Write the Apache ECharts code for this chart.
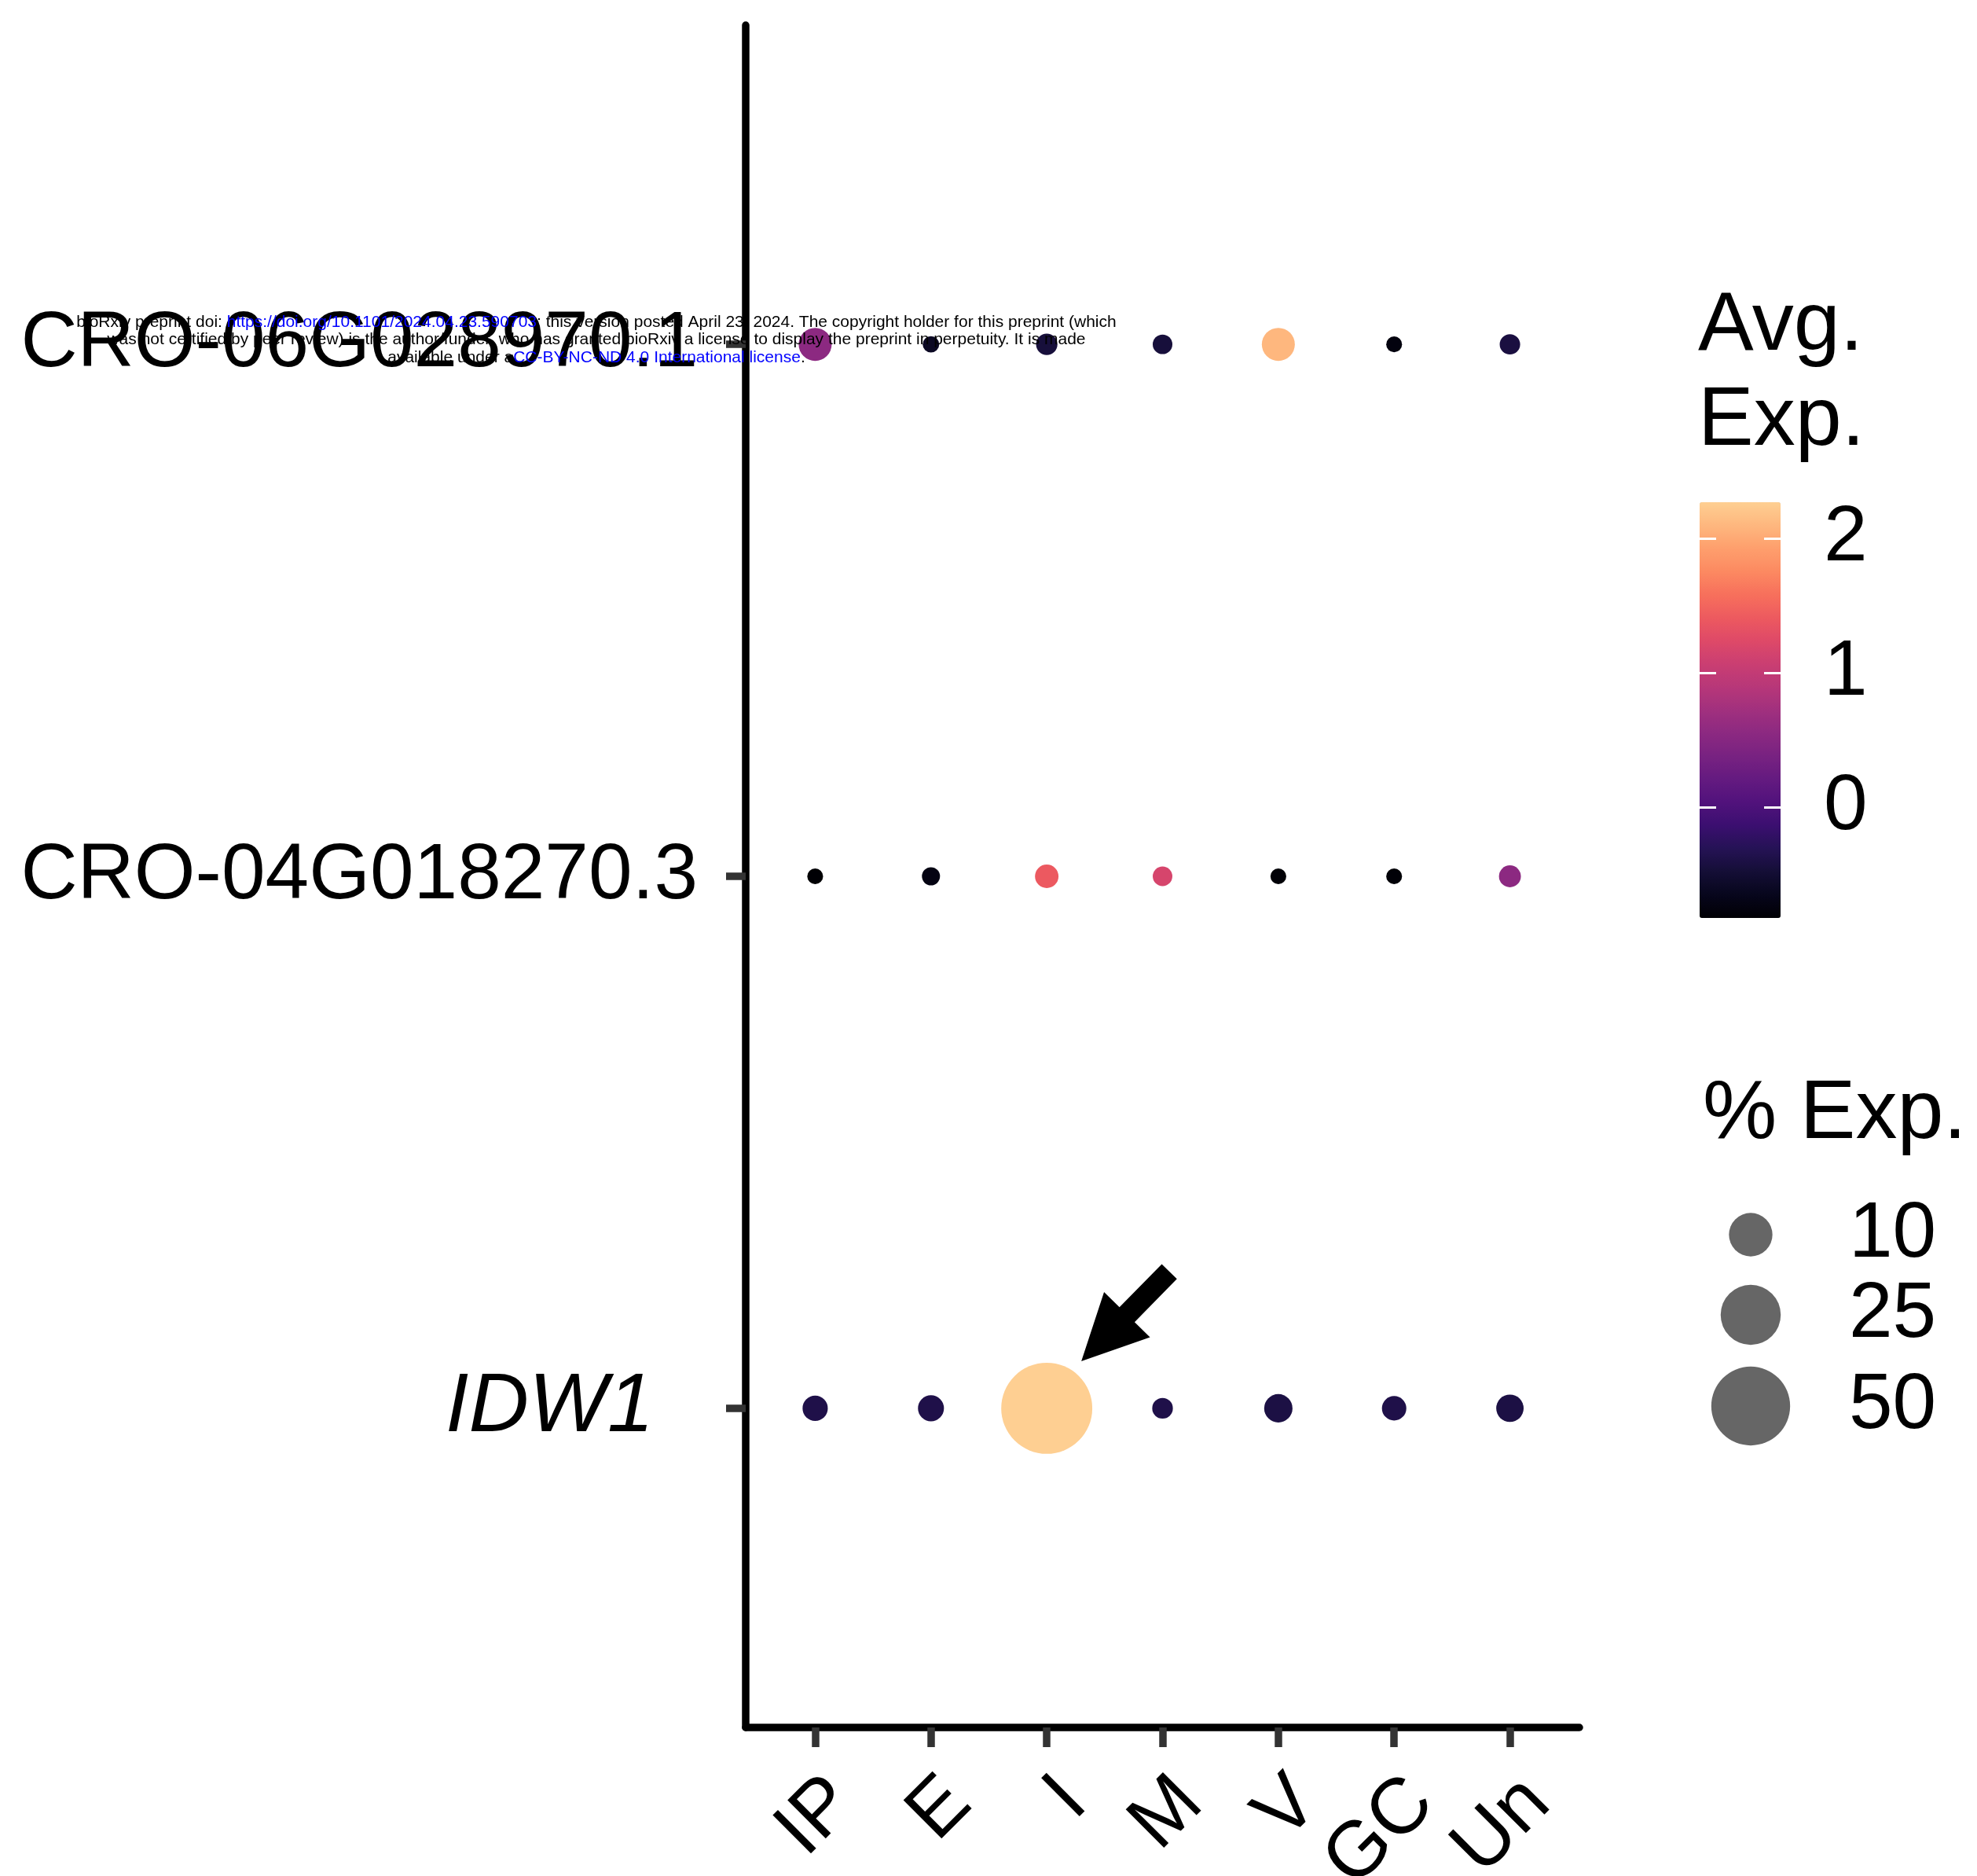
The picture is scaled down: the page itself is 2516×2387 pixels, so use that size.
<!DOCTYPE html>
<html>
<head>
<meta charset="utf-8">
<script src="https://cdn.jsdelivr.net/npm/echarts@6/dist/echarts.min.js"></script>
<style>
html, body { margin: 0; padding: 0; background: #fff; }
#main { width: 2516px; height: 2387px; }
</style>
</head>
<body>
<div id="main"></div>
<script>
// clusters on x, genes on y (bottom to top)
var clusters = ['IP', 'E', 'I', 'M', 'V', 'GC', 'Un'];
var genes = ['IDW1', 'CRO-04G018270.3', 'CRO-06G028970.1'];

// scaled average expression per cluster
var avgIDW1 = [-0.37, -0.37, 2.27, -0.37, -0.40, -0.37, -0.40];
var avg04G = [-0.82, -0.72, 1.40, 1.17, -0.80, -0.80, 0.55];
var avg06G = [0.55, -0.60, -0.45, -0.45, 2.10, -0.75, -0.42];

// percent of cells expressing
var pctIDW1 = [1.3, 1.5, 71, 0.4, 2.2, 1.1, 1.9];
var pct04G = [0.01, 0.12, 0.9, 0.27, 0.01, 0.01, 0.6];
var pct06G = [4.0, 0.03, 0.5, 0.27, 4.0, 0.01, 0.37];

var sizeBreaks = [10, 25, 50];
var colorTicks = [0, 1, 2];
var colorMin = -0.82;
var colorMax = 2.27;

// magma, 0 .. 0.9
var magma = ['#000004', '#07061C', '#140E36', '#251255', '#3B0F70', '#51127C', '#641A80',
  '#782281', '#8C2981', '#A1307E', '#B73779', '#CA3E72', '#DE4968', '#ED5A5F', '#F7705C',
  '#FC8961', '#FE9F6D', '#FEB77E', '#FECF92'];

var font = 'Liberation Sans, Arial, Helvetica, sans-serif';

function dotSize(p) {
  return 19 + 11.5 * Math.sqrt(p);
}

var avgRows = [avgIDW1, avg04G, avg06G];
var pctRows = [pctIDW1, pct04G, pct06G];
var points = [];
for (var g = 0; g < genes.length; g++) {
  for (var c = 0; c < clusters.length; c++) {
    points.push([c + 1, g + 1, avgRows[g][c], pctRows[g][c]]);
  }
}
var xPos = clusters.map(function (d, i) { return i + 1; });
var yPos = genes.map(function (d, i) { return i + 1; });

var myChart = echarts.init(document.getElementById('main'));

myChart.setOption({
  animation: false,
  textStyle: { fontFamily: font },
  grid: [
    { left: 949, right: 506, top: 32, bottom: 189, outerBoundsMode: 'none', containLabel: false },
    { left: 2163, top: 639, width: 103, height: 529, outerBoundsMode: 'none', containLabel: false }
  ],
  xAxis: [
    {
      type: 'value', gridIndex: 0, min: 0.4, max: 7.6,
      splitLine: { show: false },
      axisLine: { onZero: false, lineStyle: { color: '#000', width: 9.5 } },
      axisTick: { customValues: xPos, length: 25, lineStyle: { color: '#333', width: 9.5 } },
      axisLabel: {
        customValues: xPos, interval: 0, rotate: 45, align: 'right', verticalAlign: 'top',
        margin: 45, fontSize: 100, color: '#000', fontFamily: font,
        formatter: function (v) { return clusters[Math.round(v) - 1]; }
      }
    },
    { type: 'value', gridIndex: 1, min: 0, max: 1, show: false }
  ],
  yAxis: [
    {
      type: 'value', gridIndex: 0, min: 0.4, max: 3.6,
      splitLine: { show: false },
      axisLine: { onZero: false, lineStyle: { color: '#000', width: 9.5 } },
      axisTick: { customValues: yPos, length: 25, lineStyle: { color: '#333', width: 9.5 } },
      axisLabel: {
        customValues: yPos, interval: 0, margin: 61, fontSize: 100, color: '#000', fontFamily: font,
        formatter: function (v) {
          var name = genes[Math.round(v) - 1];
          return name === 'IDW1' ? '{it|' + name + '}' : name;
        },
        rich: {
          it: { fontStyle: 'italic', fontSize: 106, color: '#000', fontFamily: font, padding: [0, 56, 0, 0] }
        }
      }
    },
    {
      type: 'value', gridIndex: 1, position: 'left', min: colorMin, max: colorMax, z: 10,
      splitLine: { show: false }, axisLine: { show: false }, axisLabel: { show: false },
      axisTick: { inside: true, customValues: colorTicks, length: 21, lineStyle: { color: '#fff', width: 3 } }
    },
    {
      type: 'value', gridIndex: 1, position: 'right', min: colorMin, max: colorMax, z: 10,
      splitLine: { show: false }, axisLine: { show: false },
      axisTick: { inside: true, customValues: colorTicks, length: 21, lineStyle: { color: '#fff', width: 3 } },
      axisLabel: { customValues: colorTicks, margin: 55, fontSize: 100, color: '#000', fontFamily: font }
    }
  ],
  visualMap: {
    type: 'continuous', seriesIndex: 0, dimension: 2,
    min: colorMin, max: colorMax, calculable: false, hoverLink: false,
    inRange: { color: magma },
    left: 2163, top: 639, itemWidth: 103, itemHeight: 529, padding: 0
  },
  series: [
    {
      type: 'scatter', xAxisIndex: 0, yAxisIndex: 0,
      symbol: 'circle',
      symbolSize: function (d) { return dotSize(d[3]); },
      itemStyle: { opacity: 1 },
      data: points
    }
  ]
});

// arrow pointing at the IDW1 dot in cluster I
var ctr = myChart.convertToPixel({ gridIndex: 0 }, [clusters.indexOf('I') + 1, genes.indexOf('IDW1') + 1]);
var tip = [ctr[0] + 44, ctr[1] - 60];
var tail = [ctr[0] + 156, ctr[1] - 174];
var len = Math.sqrt(Math.pow(tail[0] - tip[0], 2) + Math.pow(tail[1] - tip[1], 2));
var u = [(tail[0] - tip[0]) / len, (tail[1] - tip[1]) / len];
var n = [-u[1], u[0]];
var hb = [tip[0] + u[0] * 83, tip[1] + u[1] * 83];
function off(p, k) { return [p[0] + n[0] * k, p[1] + n[1] * k]; }
var arrowPts = [tip, off(hb, 41), off(hb, 13.5), off(tail, 13.5), off(tail, -13.5), off(hb, -13.5), off(hb, -41)];

var graphics = [
  { type: 'polygon', shape: { points: arrowPts }, style: { fill: '#000' }, z: 20 },
  { type: 'text', x: 2161, y: 416, style: { text: 'Avg.', font: '106px ' + font, fill: '#000', verticalAlign: 'middle' } },
  { type: 'text', x: 2161, y: 537, style: { text: 'Exp.', font: '106px ' + font, fill: '#000', verticalAlign: 'middle' } },
  { type: 'text', x: 2167, y: 1419, style: { text: '% Exp.', font: '106px ' + font, fill: '#000', verticalAlign: 'middle' } }
];

// size legend
var legendY = [1571, 1673, 1789];
sizeBreaks.forEach(function (b, i) {
  graphics.push({ type: 'circle', shape: { cx: 2228, cy: legendY[i], r: dotSize(b) / 2 }, style: { fill: '#666666' } });
  graphics.push({ type: 'text', x: 2353, y: legendY[i], style: { text: String(b), font: '100px ' + font, fill: '#000', verticalAlign: 'middle' } });
});

// bioRxiv stamp
var stamp = [
  'bioRxiv preprint doi: {b|https://doi.org/10.1101/2024.04.23.590703}; this version posted April 23, 2024. The copyright holder for this preprint (which',
  'was not certified by peer review) is the author/funder, who has granted bioRxiv a license to display the preprint in perpetuity. It is made',
  'available under a{b|CC-BY-NC-ND 4.0 International license}.'
];
stamp.forEach(function (s, i) {
  graphics.push({
    type: 'text', x: 759, y: 410 + i * 22.5, z: 50,
    style: {
      text: s, font: '21px ' + font, fill: '#000', align: 'center', verticalAlign: 'middle',
      rich: { b: { fill: '#0000FF', font: '21px ' + font } }
    }
  });
});

myChart.setOption({ graphic: graphics });
</script>
</body>
</html>
